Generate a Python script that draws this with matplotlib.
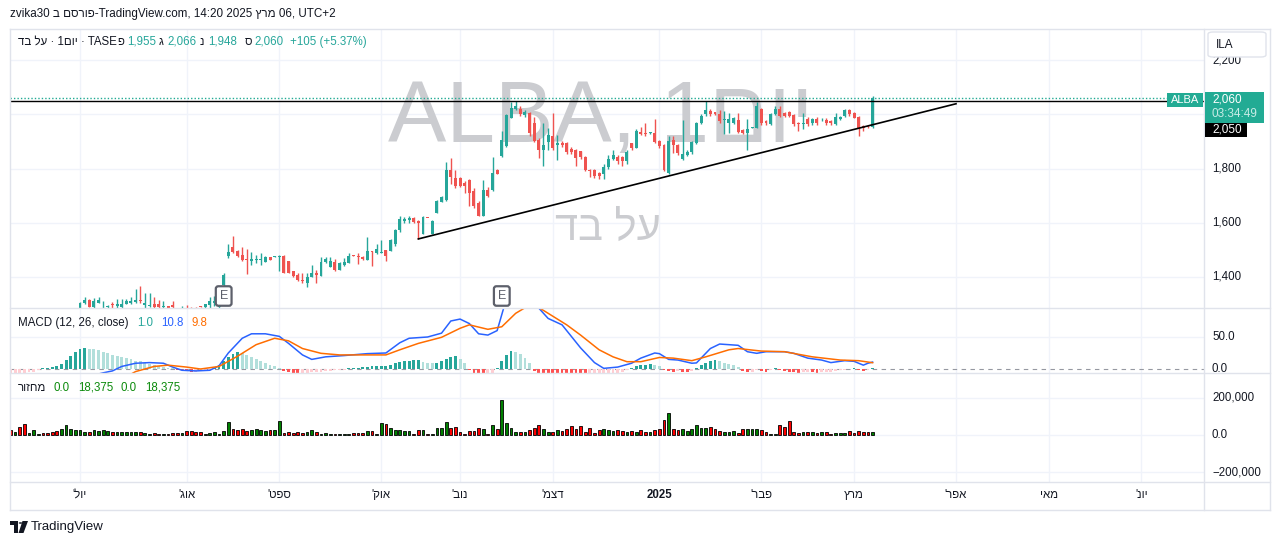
import numpy as np
import pandas as pd
import matplotlib
matplotlib.use("Agg")
import matplotlib.pyplot as plt
from matplotlib.patches import Rectangle, FancyBboxPatch, Polygon, Circle
from matplotlib.transforms import blended_transform_factory as blend

plt.rcParams['font.family'] = ['Liberation Sans', 'DejaVu Sans']

W, H = 1281, 545

# TASE trading days (Sun-Thu), holidays closed
holidays = ['2024-06-12', '2024-08-13', '2024-10-02', '2024-10-03', '2024-10-16', '2024-10-17',
            '2024-10-23', '2024-10-24', '2025-04-13', '2025-04-30', '2025-05-01', '2025-06-02']
days = pd.bdate_range('2024-06-09', '2025-07-31', freq='C',
                      weekmask='Sun Mon Tue Wed Thu', holidays=holidays)

# daily candles, 2024-06-09 .. 2025-03-06
opens = [1230, 1226, 1232, 1225, 1212, 1218, 1226, 1228, 1226, 1224, 1221, 1219, 1232, 1250, 1262,
         1282, 1302, 1315, 1290, 1305, 1299, 1290, 1300, 1293, 1288, 1300, 1302, 1307, 1315, 1296,
         1292, 1300, 1300, 1290, 1292, 1295, 1280, 1278, 1285, 1288, 1288, 1290, 1288, 1296, 1305,
         1290, 1370, 1478, 1512, 1496, 1481, 1465, 1459, 1463, 1461, 1453, 1475, 1474, 1473, 1478,
         1457, 1420, 1407, 1389, 1377, 1399, 1416, 1404, 1453, 1438, 1453, 1424, 1444, 1451, 1480,
         1478, 1475, 1463, 1494, 1488, 1488, 1500, 1494, 1520,
         1572, 1608, 1610, 1618, 1606, 1560, 1618, 1560, 1636, 1677, 1683, 1796, 1765, 1765, 1745,
         1759, 1716, 1673, 1626, 1722, 1720, 1796, 1846, 1883, 1988, 2019, 2019, 1996, 2006, 1969,
         1907, 1870, 1897, 1920, 1885, 1893, 1893, 1873, 1870, 1864, 1843, 1796, 1796, 1784, 1781,
         1806, 1836, 1843, 1843, 1827, 1893, 1877, 1935, 1932, 1931, 1932, 1901, 1885, 1784, 1905,
         1885, 1836, 1850, 1860, 1895, 1969, 2002, 2012, 2008, 2002, 1980, 1967, 1967, 1979, 1942,
         1932, 1950, 1951, 2019, 1975, 1963, 2000, 2019, 2006, 2009, 1996, 1967, 1965, 1984, 1967,
         1981, 1978, 1979, 1975, 1963, 1984, 1994, 2016, 2004, 1990, 1957, 1957, 1955]
highs = [1236, 1238, 1236, 1228, 1222, 1230, 1232, 1232, 1230, 1228, 1225, 1236, 1256, 1266, 1276,
         1307, 1325, 1318, 1321, 1327, 1312, 1296, 1307, 1317, 1317, 1320, 1325, 1354, 1367, 1339,
         1340, 1327, 1315, 1312, 1294, 1309, 1284, 1293, 1296, 1289, 1289, 1291, 1301, 1327, 1330,
         1300, 1414, 1522, 1549, 1500, 1512, 1502, 1490, 1482, 1488, 1478, 1475, 1478, 1481, 1480,
         1459, 1422, 1416, 1414, 1414, 1444, 1424, 1473, 1475, 1473, 1465, 1453, 1469, 1488, 1480,
         1488, 1476, 1547, 1494, 1522, 1535, 1500, 1540, 1576,
         1624, 1620, 1625, 1622, 1610, 1624, 1619, 1610, 1685, 1698, 1823, 1839, 1796, 1769, 1755,
         1760, 1728, 1680, 1757, 1730, 1843, 1800, 1938, 2000, 2047, 2050, 2030, 2015, 2010, 1990,
         1912, 1969, 1951, 2006, 1925, 1900, 1896, 1880, 1872, 1866, 1845, 1800, 1800, 1786, 1815,
         1850, 1870, 1850, 1845, 1870, 1895, 1945, 1955, 1969, 1936, 1984, 1905, 1890, 1920, 1920,
         1890, 1979, 1870, 1900, 1970, 2000, 2049, 2018, 2010, 2016, 2012, 2006, 1990, 2006, 1945,
         1982, 1955, 2047, 2022, 1980, 2005, 2030, 2030, 2010, 2012, 2000, 1970, 2006, 1990, 1985,
         1990, 1985, 1985, 1980, 2006, 1995, 2020, 2020, 2010, 1995, 1960, 1962, 2066]
lows = [1222, 1222, 1220, 1208, 1208, 1214, 1222, 1222, 1220, 1218, 1215, 1216, 1230, 1246, 1258,
        1278, 1300, 1288, 1284, 1302, 1284, 1282, 1284, 1284, 1286, 1298, 1300, 1305, 1302, 1285,
        1290, 1284, 1284, 1284, 1282, 1280, 1270, 1275, 1275, 1286, 1286, 1288, 1286, 1284, 1292,
        1286, 1367, 1469, 1488, 1475, 1457, 1410, 1444, 1451, 1444, 1453, 1463, 1472, 1420, 1416,
        1414, 1401, 1383, 1377, 1364, 1399, 1379, 1404, 1451, 1438, 1421, 1424, 1441, 1451, 1478,
        1447, 1463, 1463, 1441, 1485, 1488, 1459, 1494, 1515,
        1566, 1598, 1600, 1598, 1540, 1560, 1617, 1558, 1634, 1675, 1680, 1741, 1728, 1730, 1710,
        1660, 1655, 1624, 1624, 1695, 1716, 1778, 1843, 1880, 1985, 2015, 1995, 1990, 1920, 1898,
        1840, 1809, 1870, 1870, 1830, 1880, 1855, 1855, 1808, 1835, 1790, 1770, 1765, 1760, 1760,
        1800, 1830, 1815, 1810, 1815, 1870, 1875, 1925, 1920, 1928, 1893, 1875, 1790, 1778, 1858,
        1850, 1830, 1845, 1855, 1890, 1966, 1994, 1994, 1998, 1969, 1926, 1932, 1965, 1932, 1928,
        1870, 1948, 1950, 1960, 1960, 1960, 1998, 1990, 1990, 1990, 1958, 1940, 1945, 1958, 1962,
        1962, 1975, 1962, 1962, 1960, 1980, 1990, 1995, 1985, 1920, 1940, 1950, 1948]
closes = [1226, 1232, 1225, 1212, 1218, 1226, 1228, 1226, 1224, 1221, 1219, 1232, 1250, 1262, 1272,
          1305, 1315, 1290, 1309, 1315, 1301, 1292, 1295, 1300, 1300, 1309, 1312, 1315, 1310, 1305,
          1296, 1290, 1290, 1294, 1284, 1290, 1275, 1283, 1280, 1287, 1287, 1289, 1300, 1309, 1312,
          1294, 1405, 1490, 1490, 1478, 1463, 1463, 1467, 1465, 1465, 1475, 1463, 1476, 1478, 1416,
          1416, 1404, 1387, 1383, 1401, 1414, 1407, 1453, 1465, 1457, 1424, 1451, 1453, 1478, 1478,
          1472, 1465, 1496, 1490, 1502, 1490, 1478, 1537, 1572,
          1614, 1615, 1618, 1604, 1597, 1620, 1617, 1608, 1679, 1694, 1796, 1769, 1735, 1735, 1735,
          1710, 1660, 1626, 1722, 1698, 1784, 1781, 1904, 1997, 2025, 2031, 2000, 2009, 1932, 1901,
          1870, 1885, 1923, 1877, 1895, 1885, 1860, 1860, 1840, 1843, 1796, 1790, 1772, 1772, 1806,
          1836, 1848, 1827, 1827, 1860, 1877, 1938, 1926, 1926, 1933, 1898, 1883, 1796, 1901, 1885,
          1858, 1852, 1862, 1897, 1967, 1994, 2016, 2000, 2000, 1975, 1982, 1984, 1988, 1935, 1932,
          1947, 1952, 2031, 1967, 1967, 2000, 2019, 1994, 1994, 1994, 1963, 1966, 1967, 1963, 1981,
          1967, 1980, 1967, 1967, 1991, 1991, 2016, 2000, 1988, 1951, 1951, 1955, 2060]
volumes = [25000, 15000, 45000, 58000, 10000, 25000, 3000, 12000, 12000, 15000, 20000, 30000, 55000, 30000, 28000,
           28000, 15000, 18000, 25000, 22000, 25000, 20000, 15000, 15000, 15000, 15000, 18000, 18000, 18000, 12000,
           3000, 10000, 3000, 8000, 3000, 12000, 12000, 12000, 20000, 20000, 15000, 18000, 3000, 12000, 15000,
           3000, 20000, 72000, 30000, 28000, 35000, 20000, 25000, 30000, 25000, 22000, 28000, 25000, 76000, 12000,
           15000, 12000, 15000, 12000, 15000, 25000, 15000, 5000, 10000, 3000, 5000, 3000, 8000, 8000, 10000,
           12000, 12000, 22000, 22000, 3000, 65000, 60000, 40000, 25000, 25000, 20000, 22000, 3000, 25000,
           25000, 3000, 3000, 36000, 36000, 68000, 40000, 42000, 14000, 3000, 22000, 22000, 36000, 30000, 3000,
           54000, 30000, 189000, 63000, 36000, 18000, 14000, 14000, 27000, 36000, 54000, 30000, 18000, 18000, 27000,
           22000, 32000, 49000, 32000, 49000, 14000, 40000, 10000, 25000, 30000, 25000, 22000, 25000, 20000, 15000,
           22000, 15000, 25000, 18000, 15000, 25000, 30000, 81000, 117000, 30000, 25000, 30000, 22000, 30000, 55000,
           40000, 40000, 45000, 30000, 22000, 15000, 15000, 22000, 10000, 30000, 30000, 30000, 30000, 25000, 15000,
           3000, 8000, 55000, 45000, 75000, 15000, 12000, 15000, 15000, 15000, 12000, 15000, 15000, 3000, 12000,
           12000, 12000, 22000, 12000, 22000, 18000, 15000, 18375]

# MACD(12, 26) histogram per bar
hist = [-9, -8, -7, -6, -5, -4, -2,
        1, 2, 3, 4, 8, 14, 21, 27, 31, 33,
        32, 31, 29, 27, 25, 22, 20, 18, 17, 15, 13, 12, 10, 8, 6, 4, 3, 2, 1,
        -1, -2, -3, -4, -4, -3, -2, -1,
        2, 6, 12, 19, 24, 27,
        25, 22, 19, 16, 13, 10, 7, 4, 1,
        -3, -5, -7, -8, -7, -6, -5, -5, -4, -3, -3, -2, -2, -1,
        1, 2, 2, 3, 3, 4, 4, 5, 5, 7, 9, 11, 12, 13, 14, 14,
        11, 10, 9, 10, 12, 16, 19, 20, 16, 10,
        -2, -6, -9, -10, -9, -6, 2, 12, 22, 28,
        26, 23, 17, 10, -3, -8, -12, -15, -18, -20,
        -21, -22, -23, -24, -25, -26, -26, -25, -22, -18,
        -14, -11, -8, -5, -2, 1, 4, 6, 7, 7.5,
        6, 4, -1, -3, -4, -3, -4, -5, -3, 2,
        6, 10, 13, 14, 12, 10, 8, 6, 3, -3,
        -5, -4, -2, -3, -4, -2, 1, -1, -3, -4,
        -5, -6, -5, -4, -5, -6, -5, -5, -4, -3,
        -2, -1, 0.5, 1, -1, -3, -2, 1.0]

# MACD and signal lines, read at bar numbers
macd_bar = [0, 10, 15, 20, 22, 24, 27, 30, 33, 35, 37, 40, 43, 45, 47, 50, 52, 55, 58, 60, 63, 65, 68,
            72, 77, 81, 84, 86, 90, 93, 95, 97, 99, 101, 103, 105, 107, 113, 114, 116, 119, 123, 126,
            128, 131, 134, 136, 139, 140, 142, 144, 147, 148, 151, 153, 157, 159, 161, 163, 167, 169,
            172, 175, 177, 180, 182, 184, 185, 186]
macd_val = [-45, -38, -15, -6, -3, 4, 9, 10, 9, 3, -2, -3, -2, 5, 25, 48, 55, 55, 51, 40, 22, 15, 19,
            21, 24, 25, 41, 48, 50, 56, 75, 78, 71, 55, 53, 60, 110, 105, 95, 79, 69, 33, 10,
            1, 3, 9, 17, 25, 24, 15, 14, 9, 9.5, 32, 39, 37, 27, 24.5, 27, 27, 24.5,
            17, 14, 10, 13, 12, 6, 9, 10.8]
signal_bar = [0, 10, 15, 20, 25, 27, 31, 34, 38, 41, 45, 49, 53, 57, 60, 63, 67, 71, 77, 81, 84, 88,
              93, 97, 99, 103, 106, 109, 112, 114, 116, 120, 123, 127, 130, 133, 136, 140, 143, 147,
              150, 155, 157, 162, 167, 173, 179, 183, 186]
signal_val = [-40, -40, -46, -33, -12, -4, 4, 6, 3, 0, 4, 20, 38, 48, 44, 32, 24.5, 22, 22, 22, 30, 40,
              49.5, 63.6, 69, 62, 66, 87, 100, 96, 87, 69, 53, 30, 19, 11.4, 11.4, 18, 17, 13,
              19, 30, 32, 28, 27, 19, 14, 13, 9.8]

# drawings
trend_dates = ['2024-10-15', '2025-04-01']
trend_prices = [1540, 2039]
hline_price = 2050
earnings_dates = ['2024-08-14', '2024-11-14']

month_starts = ['2024-07', '2024-08', '2024-09', '2024-10', '2024-11', '2024-12',
                '2025-01', '2025-02', '2025-03', '2025-04', '2025-05', '2025-06']
month_labels = ["'לוי", "'גוא", "'טפס", "'קוא", "'בונ", "'מצד",
                "2025", "'רבפ", "ץרמ", "'רפא", "יאמ", "'נוי"]

UP, DOWN = '#26a69a', '#ef5350'
TXT = '#131722'
GRID = '#f0f3fa'
SEP = '#e0e3eb'

o, h, l, c = map(np.array, (opens, highs, lows, closes))
x = np.arange(len(c))
ymd = days.strftime('%Y-%m')
tick_pos = [int(np.argmax(ymd == m)) for m in month_starts]
day_idx = {d.strftime('%Y-%m-%d'): i for i, d in enumerate(days)}


def rect(x0, y0, x1, y1):
    return [x0 / W, 1 - y1 / H, (x1 - x0) / W, (y1 - y0) / H]


def ftext(px, py, s, **kw):
    kw.setdefault('va', 'center')
    kw.setdefault('color', TXT)
    return fig.text(px / W, 1 - py / H, s, **kw)


fig = plt.figure(figsize=(W / 100, H / 100), dpi=100)
ax = fig.add_axes(rect(10, 29, 1204, 308))
axm = fig.add_axes(rect(10, 308, 1204, 373), sharex=ax)
axv = fig.add_axes(rect(10, 373, 1204, 482), sharex=ax)
axt = fig.add_axes(rect(10, 482, 1204, 509), sharex=ax)
for a in (ax, axm, axv, axt):
    for s in a.spines.values():
        s.set_visible(False)
    a.tick_params(left=False, bottom=False, labelleft=False, labelbottom=False)
    a.set_facecolor('none')
ax.set_xlim(-0.1, 257.5)
ax.set_ylim(1285, 2315)
axm.set_ylim(-6.25, 95.3)
axv.set_ylim(-254000, 335000)
axt.set_ylim(0, 1)

for a in (ax, axm, axv):
    for t in tick_pos:
        a.axvline(t, color=GRID, lw=1, zorder=0)
for p in (1400, 1600, 1800, 2000, 2200):
    ax.axhline(p, color=GRID, lw=1, zorder=0)
axm.axhline(50, color=GRID, lw=1, zorder=0)
for v in (200000, 0, -200000):
    axv.axhline(v, color=GRID, lw=1, zorder=0)

# watermark
ax.text(0.495, 0.675, 'ALBA, 1םוי', transform=ax.transAxes, ha='center', va='center',
        fontsize=63, color='#cbccd0', zorder=1)
ax.text(0.501, 0.285, 'דב לע', transform=ax.transAxes, ha='center', va='center',
        fontsize=30, color='#cbccd0', zorder=1)

# candles
up = c >= o
ccol = np.where(up, UP, DOWN)
ax.vlines(x, l, h, colors=ccol, lw=1, zorder=3)
ax.bar(x, np.maximum(np.abs(c - o), 2.6), bottom=np.minimum(o, c), width=0.64,
       color=ccol, linewidth=0, zorder=4)

# price lines and drawings
ax.axhline(c[-1], color='#22ab94', lw=1, ls=(0, (1, 1.5)), zorder=2)
ax.axhline(hline_price, color='black', lw=1, zorder=5)
ti = [day_idx[d] for d in trend_dates]
ax.plot(ti, trend_prices, color='black', lw=1.2, zorder=5)

tr = blend(ax.transData, fig.transFigure)
for d in earnings_dates:
    ax.text(day_idx[d], 1 - 296 / H, 'E', transform=tr, ha='center', va='center',
            fontsize=9, color='#5d606b', zorder=6,
            bbox=dict(boxstyle='round,pad=0.3,rounding_size=0.2', fc='white', ec='#5d606b', lw=1.6))

# MACD
hcol = []
for i, v in enumerate(hist):
    prev = hist[i - 1] if i > 0 else v
    if v >= 0:
        hcol.append('#26a69a' if v >= prev else '#b2dfdb')
    else:
        hcol.append('#ff5252' if v < prev else '#ffcdd2')
axm.bar(x, hist, width=0.62, color=hcol, linewidth=0, zorder=2)
axm.axhline(0, color='#9598a1', lw=0.8, ls=(0, (4, 4)), zorder=1)
axm.plot(macd_bar, macd_val, color='#2962ff', lw=1.1, zorder=3)
axm.plot(signal_bar, signal_val, color='#ff6d00', lw=1.1, zorder=3)

# volume
vcol = np.where(up, '#008000', '#ff0000')
axv.bar(x, volumes, width=0.6, color=vcol, edgecolor='black', linewidth=0.6, zorder=2)

# time axis
for t, lab in zip(tick_pos, month_labels):
    axt.text(t, 0.52, lab, ha='center', va='center', fontsize=8.3, color=TXT,
             fontweight='bold' if lab.isdigit() else 'normal')

# frame and separators
def fline(x0, y0, x1, y1, col=SEP, lw=1):
    fig.add_artist(plt.Line2D([x0 / W, x1 / W], [1 - y0 / H, 1 - y1 / H], color=col, lw=lw,
                              transform=fig.transFigure))

fline(9.5, 28.5, 1270, 28.5)
fline(9.5, 28.5, 9.5, 509.5)
fline(1270, 28.5, 1270, 509.5)
fline(9.5, 509.5, 1270, 509.5)
fline(1204, 28.5, 1204, 509.5)
fline(10, 308, 1270, 308)
fline(10, 373, 1270, 373)
fline(10, 482, 1270, 482)

# price scale labels
for p, s in ((2200, '2,200'), (1800, '1,800'), (1600, '1,600'), (1400, '1,400')):
    ax.text(1.0067, p, s, transform=ax.get_yaxis_transform(), va='center', fontsize=8.3,
            color=TXT, clip_on=False)
for v, s in ((50, '50.0'), (0, '0.0')):
    axm.text(1.0067, v, s, transform=axm.get_yaxis_transform(), va='center', fontsize=8.3,
             color=TXT, clip_on=False)
for v, s in ((200000, '200,000'), (0, '0.0'), (-200000, '−200,000')):
    axv.text(1.0067, v, s, transform=axv.get_yaxis_transform(), va='center', fontsize=8.3,
             color=TXT, clip_on=False)

# ILA box
fig.add_artist(FancyBboxPatch((1208 / W, 1 - 57 / H), 58 / W, 25 / H,
                              boxstyle='round,pad=0,rounding_size=0.004', transform=fig.transFigure,
                              fc='white', ec=SEP, lw=1, zorder=10))
ftext(1216, 44.5, 'ILA', fontsize=8.5, zorder=11)

# last price labels
fig.add_artist(Rectangle((1167 / W, 1 - 107 / H), 36 / W, 14 / H, transform=fig.transFigure,
                         fc='#22ab94', ec='none', zorder=10))
ftext(1185, 100, 'ALBA', fontsize=8, color='white', ha='center', zorder=11)
fig.add_artist(Rectangle((1205 / W, 1 - 123 / H), 59 / W, 31 / H, transform=fig.transFigure,
                         fc='#22ab94', ec='none', zorder=10))
ftext(1212, 100, '2,060', fontsize=8.5, color='white', zorder=11)
ftext(1212, 114, '03:34:49', fontsize=8.5, color='#c8ece6', zorder=11)
fig.add_artist(Rectangle((1205 / W, 1 - 137 / H), 42 / W, 14 / H, transform=fig.transFigure,
                         fc='black', ec='none', zorder=10))
ftext(1212, 130, '2,050', fontsize=8.5, color='white', zorder=11)

# title and legends
ftext(10, 14, 'zvika30 ב םסרופ-TradingView.com, 14:20 2025 ץרמ 06, UTC+2', fontsize=8.4)
ftext(18, 42, 'דב לע · 1םוי · TASE', fontsize=8.3)
ohlc = [('פ', 117, '1,955', 127), ('ג', 159, '2,066', 167), ('נ', 200, '1,948', 208),
        ('ס', 245, '2,060', 254)]
for lab, lx, val, vx in ohlc:
    ftext(lx, 42, lab, fontsize=8.3)
    ftext(vx, 42, val, fontsize=8.3, color=UP)
ftext(290, 42, '+105 (+5.37%)', fontsize=8.3, color=UP)

ftext(18, 323, 'MACD (12, 26, close)', fontsize=8.3)
ftext(137, 323, '1.0', fontsize=8.3, color=UP)
ftext(161, 323, '10.8', fontsize=8.3, color='#2962ff')
ftext(191, 323, '9.8', fontsize=8.3, color='#ff6d00')

ftext(18, 388, 'רוזחמ', fontsize=8.3)
for px, s in ((53, '0.0'), (78, '18,375'), (120, '0.0'), (145, '18,375')):
    ftext(px, 388, s, fontsize=8.3, color='#0b8a0b')

# TradingView logo
for pts in ([(10, 521), (18, 521), (18, 533), (14, 533), (14, 525), (10, 525)],
            [(22.5, 521), (28, 521), (23.5, 533), (18.5, 533)]):
    fig.add_artist(Polygon([(a / W, 1 - b / H) for a, b in pts], closed=True,
                           transform=fig.transFigure, fc=TXT, ec='none'))
fig.add_artist(Circle((20.5 / W, 1 - 523 / H), 1.8 / W, transform=fig.transFigure, fc=TXT, ec='none'))
ftext(31, 527, 'TradingView', fontsize=9.5)

fig.savefig('out.png', dpi=100, facecolor='white')
